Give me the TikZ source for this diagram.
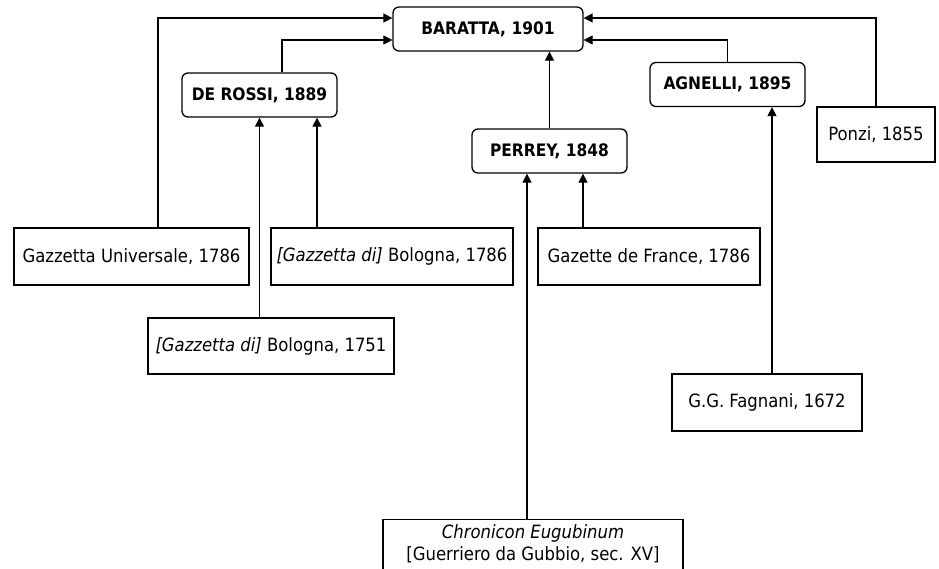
\documentclass[tikz,border=0pt]{standalone}
\usepackage{fontspec}
\setmainfont{DejaVu Sans Condensed}
\usetikzlibrary{arrows.meta}

\begin{document}
\begin{tikzpicture}[x=1pt, y=-1pt]
    % Define styles for all nodes
    \tikzstyle{source} = [draw, line width=1.3pt, inner sep=0pt, minimum height=57pt, font=\fontsize{18.3}{22}\selectfont]
    \tikzstyle{edition} = [draw, line width=1.3pt, rounded corners=6pt, inner sep=0pt, minimum width=155pt, minimum height=44pt, font=\bfseries\fontsize{17.2}{20}\selectfont]
    \tikzstyle{link} = [-{Triangle[length=9pt, width=9pt]}, line width=1.2pt]

    \useasboundingbox (0,0) rectangle (939,569);
    \clip (0,0) rectangle (939,569);

    % Nodes
    \node[edition, minimum width=190pt] (baratta) at (488, 29) {BARATTA, 1901};
    \node[edition] (derossi) at (259.5, 95) {DE ROSSI, 1889};
    \node[edition] (perrey) at (549.5, 151) {PERREY, 1848};
    \node[edition] (agnelli) at (727.5, 84.5) {AGNELLI, 1895};
    \node[source, minimum width=118pt, minimum height=55pt] (ponzi) at (876, 134.5) {Ponzi, 1855};
    \node[source, minimum width=235pt] (gazuni) at (131.5, 256.5) {Gazzetta Universale, 1786};
    \node[source, minimum width=242pt] (bol86) at (392, 256.5) {\textit{[Gazzetta di]} Bologna, 1786};
    \node[source, minimum width=222pt] (gazfr) at (649, 256.5) {Gazette de France, 1786};
    \node[source, minimum width=246pt, minimum height=56pt] (bol51) at (271, 346) {\textit{[Gazzetta di]} Bologna, 1751};
    \node[source, minimum width=190pt] (fagnani) at (767, 402.5) {G.G. Fagnani, 1672};
    \node[source, minimum width=300pt, anchor=north, align=center, inner ysep=5pt, text depth=30pt] (chronicon) at (533, 519) {\textit{Chronicon Eugubinum}\\{}[Guerriero da Gubbio, sec. XV]};

    % Points where the arrows meet the boxes
    \coordinate (d1) at ([xshift=57.5pt]derossi.south);
    \coordinate (p1) at ([xshift=-22.5pt]perrey.south);
    \coordinate (p2) at ([xshift=33.5pt]perrey.south);
    \coordinate (a1) at ([xshift=44.5pt]agnelli.south);

    % Edges with arrows
    \draw[link] ([xshift=26.5pt]gazuni.north) |- ([yshift=11pt]baratta.west);
    \draw[link] ([xshift=22.5pt]derossi.north) |- ([yshift=-11pt]baratta.west);
    \draw[link] (ponzi.north) |- ([yshift=11pt]baratta.east);
    \draw[link] (agnelli.north) |- ([yshift=-11pt]baratta.east);
    \draw[link] (perrey.north) -- (perrey.north |- baratta.south);
    \draw[link] (bol51.north -| derossi.south) -- (derossi.south);
    \draw[link] (bol86.north -| d1) -- (d1);
    \draw[link] (chronicon.north -| p1) -- (p1);
    \draw[link] (gazfr.north -| p2) -- (p2);
    \draw[link] (fagnani.north -| a1) -- (a1);
\end{tikzpicture}
\end{document}
